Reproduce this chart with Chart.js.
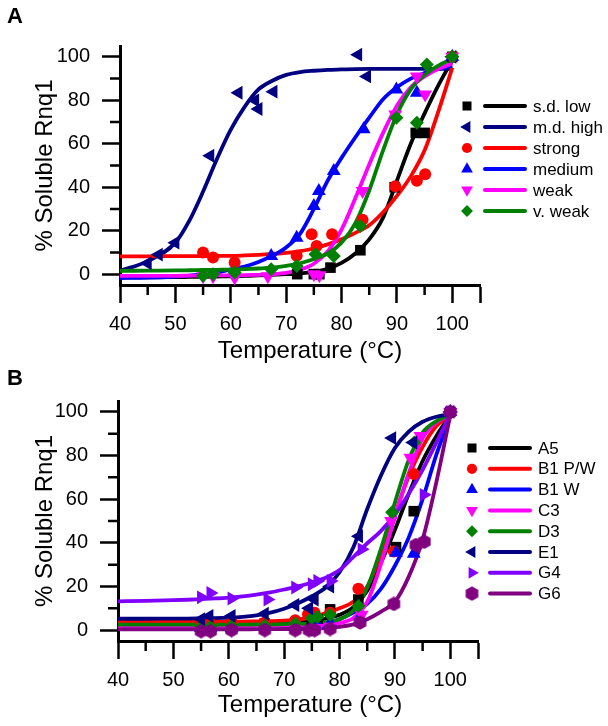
<!DOCTYPE html>
<html>
<head>
<meta charset="utf-8">
<script src="https://cdn.jsdelivr.net/npm/chart.js@4.4.1/dist/chart.umd.min.js"></script>
<style>
  body { margin: 0; background: #ffffff; }
  .panel { position: absolute; left: 0; width: 608px; }
  #panelA { top: 0; height: 366px; }
  #panelB { top: 366px; height: 360px; }
</style>
</head>
<body>
<div class="panel" id="panelA"><canvas id="chartA" width="608" height="366"></canvas></div>
<div class="panel" id="panelB"><canvas id="chartB" width="608" height="360"></canvas></div>
<script>
const fitTemps = [40, 45, 50, 52.5, 55, 57.5, 60, 62.5, 65, 67.5, 70, 72.5, 75, 77.5, 80, 82.5, 85, 87.5, 90, 92.5, 95, 97.5, 100];

// Axis ticks
const xMajorTicks = [40, 50, 60, 70, 80, 90, 100, 105];
const xMinorTicks = [45, 55, 65, 75, 85, 95];
const yMajorTicks = [0, 20, 40, 60, 80, 100];
const yMinorTicks = [10, 30, 50, 70, 90];

// ---- Panel A: measured points [temp, % soluble] ----
const sdLowPts = [[72, 0], [75, 0], [76, 0], [78, 3], [83.4, 11], [89.6, 40], [93.4, 65], [95, 65], [100, 100]];
const mdHighPts = [[45, 5], [47, 9], [50, 14.5], [56.3, 54.5], [61.4, 83.5], [64.4, 80], [65, 76], [67.7, 84], [83, 101], [84.6, 91], [100, 100]];
const strongPts = [[55, 10], [56.8, 7.7], [60.7, 5.4], [71.9, 8.5], [74.6, 18.4], [75.5, 13], [78.3, 18.4], [83.8, 25], [89.7, 40.5], [93.6, 43], [95.1, 46], [100, 100]];
const mediumPts = [[67.3, 8.4], [71.9, 16.8], [75, 31.4], [75.9, 38.3], [78.6, 47.5], [84, 66.7], [89.9, 85], [93.6, 83.5], [100, 100]];
const weakPts = [[55, -1], [56.8, -1], [60.7, -1.5], [66.7, -1], [75, 0], [76, -0.5], [83.8, 38.3], [89.7, 73.5], [93.6, 91], [95.1, 82.7], [100, 100]];
const vWeakPts = [[55, -0.8], [56.8, 0], [60.7, 0.8], [67.3, 2.3], [71.9, 3.8], [75.3, 9.2], [78.6, 8.4], [83.4, 22.2], [89.9, 72], [93.6, 69.7], [95.4, 96.5], [100, 100]];

// ---- Panel A: fitted curves at fitTemps ----
const sdLowFit = [-1.5, -1.5, -1.4, -1.3, -1.2, -1.1, -1, -0.8, -0.6, -0.3, 0, 0.4, 1, 2.5, 5.2, 9.5, 16, 26, 43, 60, 74, 87, 98.5];
const mdHighFit = [1.5, 6, 14.5, 24.5, 38, 53, 66.5, 77, 85, 89, 91.7, 93, 93.6, 94, 94.2, 94.4, 94.5, 94.5, 94.5, 94.5, 94.5, 94.5, 94.5];
const strongFit = [8.2, 8.2, 8.3, 8.3, 8.3, 8.4, 8.4, 8.6, 8.9, 9.3, 9.8, 10.6, 11.8, 13.7, 16, 19, 22.5, 28.5, 36, 45, 57, 75, 95];
const mediumFit = [-1.8, -1.6, -1.1, -0.7, 0, 0.8, 2.2, 3.5, 5.6, 8.5, 12.3, 18.5, 30, 43, 53.5, 63, 72, 80.5, 86, 90, 92.5, 94.5, 96];
const weakFit = [-0.8, -0.8, -0.8, -0.7, -0.7, -0.6, -0.6, -0.5, -0.3, 0, 0.6, 2, 4.8, 10.5, 20.5, 35, 50.5, 65, 77.5, 86, 91, 94.5, 97];
const vWeakFit = [1.5, 1.6, 1.7, 1.8, 1.9, 2, 2.1, 2.3, 2.6, 3, 3.8, 5, 7, 9.5, 14.5, 23.5, 38.5, 57, 73.5, 85, 91.7, 96, 99];

// ---- Panel B: measured points ----
const a5Pts = [[55, 2.5], [56.7, 2.5], [60.5, 2.5], [66.5, 3], [72, 3.5], [75, 4], [76, 5], [78.3, 9.5], [83.4, 14], [90.2, 38], [93.4, 54.5], [100, 100]];
const b1pwPts = [[55, 3], [56.7, 3], [60.5, 3.5], [66.5, 3.5], [72, 4.5], [74.3, 7.3], [75.5, 8], [78.3, 8], [83.4, 19], [89.8, 36], [93.4, 71.5], [100, 100]];
const b1wPts = [[55, 1], [56.7, 1], [60.5, 1], [66.5, 1.5], [72, 1.5], [75, 2], [76, 2.5], [78.3, 3], [83.7, 6], [90.2, 35.5], [93.4, 35], [100, 100]];
const c3Pts = [[55, 0], [56.7, 0], [60.5, 0.5], [66.5, 0.5], [72, 0.5], [75, 0.5], [76, 1], [78.3, 1.5], [84, 7], [89.3, 50], [92.8, 79], [94.6, 89], [100, 100]];
const d3Pts = [[55, 1.5], [56.7, 1.5], [60.5, 2], [66.5, 2], [72, 3], [75, 5.5], [76, 6], [78.3, 7], [83.4, 11], [89.5, 54], [93.5, 86], [100, 100]];
const e1Pts = [[55, 5], [56.5, 6.5], [60.5, 6.5], [66.5, 7.5], [72, 11.5], [74.5, 10], [75.5, 14], [78.3, 20], [83.5, 43], [89.5, 88], [93.3, 86], [100, 100]];
const g4Pts = [[55, 15], [56.7, 17], [60.5, 14.5], [67, 14], [72, 19.5], [75, 21], [76, 22.5], [78.4, 22.5], [84, 37], [95.2, 62], [100, 100]];
const g6Pts = [[55, -0.5], [56.7, -0.5], [60.5, 0], [66.5, 0], [72, 0], [74.5, 0], [75.5, 0], [78.3, 0.5], [83.7, 3.5], [89.8, 12], [93.8, 39], [95.3, 40.5], [100, 100]];

// ---- Panel B: fitted curves at fitTemps ----
const a5Fit = [3.2, 3.2, 3.2, 3.2, 3.2, 3.2, 3.3, 3.3, 3.4, 3.5, 3.6, 3.9, 4.4, 5.3, 7, 10.5, 18, 31, 46, 62.5, 77.5, 89, 98.5];
const b1pwFit = [3.8, 3.8, 3.8, 3.8, 3.8, 3.8, 3.9, 3.9, 4, 4.1, 4.3, 4.8, 5.8, 7.8, 10, 13, 20, 35, 53, 70.5, 84, 93.5, 98.5];
const b1wFit = [2, 2, 2, 2, 2, 2, 2, 2.1, 2.1, 2.2, 2.3, 2.4, 2.6, 3.3, 5, 8, 12, 19, 29.5, 42.5, 60, 80.5, 98];
const c3Fit = [1.2, 1.2, 1.2, 1.2, 1.2, 1.2, 1.2, 1.2, 1.2, 1.3, 1.3, 1.4, 1.5, 2, 3.2, 5.5, 13, 30.5, 52, 72, 88, 95.3, 98.5];
const d3Fit = [2.5, 2.5, 2.5, 2.5, 2.5, 2.5, 2.5, 2.5, 2.6, 2.6, 2.7, 2.8, 3, 3.6, 5, 9, 19.5, 37.5, 58.5, 78, 90.5, 95.8, 98.8];
const e1Fit = [5.2, 5.2, 5.3, 5.3, 5.4, 5.5, 5.7, 6.1, 6.8, 8, 9.8, 12.3, 15.5, 19.5, 26.5, 38, 55.5, 71, 83.5, 91, 95.5, 97.8, 99];
const g4Fit = [13.2, 13.4, 13.7, 13.9, 14.2, 14.5, 14.9, 15.5, 16.3, 17.3, 18.6, 20, 21.8, 24, 27.5, 33.5, 39.8, 45.5, 53, 62.5, 73.5, 86, 99];
const g6Fit = [0.3, 0.3, 0.3, 0.3, 0.3, 0.3, 0.3, 0.3, 0.4, 0.4, 0.5, 0.5, 0.6, 0.9, 1.5, 2.6, 5, 8.5, 13, 24.5, 41.5, 68, 98.5];

const FONT = "Arial, 'Liberation Sans', sans-serif";

document.addEventListener("DOMContentLoaded", () => {
    Chart.defaults.font.family = FONT;
    Chart.defaults.color = "#000";

    // small filled hexagon used as a point style
    function hexagonStyle(color) {
        const c = document.createElement("canvas");
        c.width = 15;
        c.height = 15;
        const g = c.getContext("2d");
        g.fillStyle = color;
        g.beginPath();
        for (let k = 0; k < 6; k++) {
            const a = Math.PI / 3 * k - Math.PI / 2;
            const px = 7.5 + 7.3 * Math.cos(a);
            const py = 7.5 + 7.3 * Math.sin(a);
            if (k === 0) g.moveTo(px, py); else g.lineTo(px, py);
        }
        g.closePath();
        g.fill();
        return c;
    }

    const seriesA = [
        { name: "s.d. low", color: "#000000", style: "rect", rot: 0, r: 7.5, pts: sdLowPts, fit: sdLowFit },
        { name: "m.d. high", color: "#000080", style: "triangle", rot: -90, r: 8, pts: mdHighPts, fit: mdHighFit },
        { name: "strong", color: "#ff0000", style: "circle", rot: 0, r: 6, pts: strongPts, fit: strongFit },
        { name: "medium", color: "#0000ff", style: "triangle", rot: 0, r: 8, pts: mediumPts, fit: mediumFit },
        { name: "weak", color: "#ff00ff", style: "triangle", rot: 180, r: 8, pts: weakPts, fit: weakFit },
        { name: "v. weak", color: "#008000", style: "rectRot", rot: 0, r: 7, pts: vWeakPts, fit: vWeakFit }
    ];

    const seriesB = [
        { name: "A5", color: "#000000", style: "rect", rot: 0, r: 7.5, pts: a5Pts, fit: a5Fit },
        { name: "B1 P/W", color: "#ff0000", style: "circle", rot: 0, r: 6, pts: b1pwPts, fit: b1pwFit },
        { name: "B1 W", color: "#0000ff", style: "triangle", rot: 0, r: 8, pts: b1wPts, fit: b1wFit },
        { name: "C3", color: "#ff00ff", style: "triangle", rot: 180, r: 8, pts: c3Pts, fit: c3Fit },
        { name: "D3", color: "#008000", style: "rectRot", rot: 0, r: 7, pts: d3Pts, fit: d3Fit },
        { name: "E1", color: "#000080", style: "triangle", rot: -90, r: 8, pts: e1Pts, fit: e1Fit },
        { name: "G4", color: "#8000ff", style: "triangle", rot: 90, r: 8, pts: g4Pts, fit: g4Fit },
        { name: "G6", color: "#800080", style: hexagonStyle("#800080"), rot: 0, r: 7, pts: g6Pts, fit: g6Fit }
    ];

    // lines first (later series on top), points above all lines
    function buildDatasets(series) {
        const n = series.length;
        const lines = series.map((s, i) => ({
            label: s.name + " fit",
            data: fitTemps.map((t, k) => ({ x: t, y: s.fit[k] })),
            showLine: true,
            pointRadius: 0,
            borderColor: s.color,
            backgroundColor: s.color,
            borderWidth: 3.8,
            cubicInterpolationMode: "monotone",
            order: 100 + n - i,
            clip: false
        }));
        const points = series.map((s, i) => ({
            label: s.name,
            data: s.pts.map(p => ({ x: p[0], y: p[1] })),
            pointStyle: s.style,
            rotation: s.rot,
            pointRadius: s.r,
            backgroundColor: s.color,
            borderColor: s.color,
            borderWidth: 0,
            order: n - i,
            clip: false
        }));
        return lines.concat(points);
    }

    // minor ticks, panel letter, x title and the side legend
    function decorPlugin(series, g) {
        return {
            id: "panelDecor",
            afterDraw(chart) {
                const ctx = chart.ctx;
                const xs = chart.scales.x;
                const ys = chart.scales.y;
                ctx.save();
                ctx.strokeStyle = "#000";
                ctx.lineWidth = 2.5;
                ctx.beginPath();
                xMinorTicks.forEach(v => {
                    const p = xs.getPixelForValue(v);
                    ctx.moveTo(p, xs.top);
                    ctx.lineTo(p, xs.top + 10);
                });
                yMinorTicks.forEach(v => {
                    const p = ys.getPixelForValue(v);
                    ctx.moveTo(ys.right, p);
                    ctx.lineTo(ys.right - 10, p);
                });
                ctx.stroke();

                ctx.fillStyle = "#000";
                ctx.textBaseline = "middle";
                ctx.font = "bold 22px " + FONT;
                ctx.textAlign = "left";
                ctx.fillText(g.letter, 7, g.letterY);

                ctx.font = "24px " + FONT;
                ctx.textAlign = "center";
                ctx.fillText("Temperature (\u00B0C)", g.titleX, g.titleY);

                // legend: marker, short line, label
                series.forEach((s, i) => {
                    const y = g.legY + i * g.legDy;
                    ctx.fillStyle = s.color;
                    ctx.strokeStyle = s.color;
                    Chart.helpers.drawPoint(ctx, { pointStyle: s.style, rotation: s.rot, radius: s.r * 0.85, borderWidth: 0 }, g.legMarkX, y);
                    ctx.lineWidth = 4;
                    ctx.lineCap = "round";
                    ctx.beginPath();
                    ctx.moveTo(g.legLine1, y);
                    ctx.lineTo(g.legLine2, y);
                    ctx.stroke();
                    ctx.fillStyle = "#000";
                    ctx.font = "17px " + FONT;
                    ctx.textAlign = "left";
                    ctx.fillText(s.name, g.legTextX, y + 1);
                });
                ctx.restore();
            }
        };
    }

    function makePanel(canvasId, series, g) {
        new Chart(document.getElementById(canvasId), {
            type: "scatter",
            data: { datasets: buildDatasets(series) },
            options: {
                responsive: false,
                animation: false,
                events: [],
                layout: { padding: { left: 0, top: g.top, right: g.right, bottom: 0 } },
                plugins: { legend: { display: false }, tooltip: { enabled: false } },
                scales: {
                    x: {
                        type: "linear",
                        min: 40,
                        max: 105,
                        afterBuildTicks: s => { s.ticks = xMajorTicks.map(v => ({ value: v })); },
                        afterFit: s => { s.height = g.xHeight; },
                        ticks: {
                            font: { size: 20 },
                            color: "#000",
                            padding: 9,
                            maxRotation: 0,
                            autoSkip: false,
                            callback: v => (v <= 100 ? v : "")
                        },
                        grid: { drawOnChartArea: false, tickLength: 18, tickWidth: 2.5, tickColor: "#000" },
                        border: { color: "#000", width: 3 }
                    },
                    y: {
                        type: "linear",
                        min: -5,
                        max: 105,
                        afterBuildTicks: s => { s.ticks = yMajorTicks.map(v => ({ value: v })); },
                        afterFit: s => { s.width = g.yWidth; },
                        ticks: { font: { size: 20 }, color: "#000", padding: 12, autoSkip: false },
                        grid: { drawOnChartArea: false, tickLength: 18, tickWidth: 2.5, tickColor: "#000" },
                        border: { color: "#000", width: 3 },
                        title: {
                            display: true,
                            text: "% Soluble Rnq1",
                            color: "#000",
                            font: { size: 24 },
                            padding: { top: 31, bottom: 0 }
                        }
                    }
                }
            },
            plugins: [decorPlugin(series, g)]
        });
    }

    makePanel("chartA", seriesA, {
        top: 46, right: 128, xHeight: 81, yWidth: 120,
        letter: "A", letterY: 17, titleX: 310, titleY: 351,
        legY: 106, legDy: 21, legMarkX: 467, legLine1: 485, legLine2: 525, legTextX: 533
    });

    makePanel("chartB", seriesB, {
        top: 35, right: 130, xHeight: 85, yWidth: 118,
        letter: "B", letterY: 13, titleX: 310, titleY: 339,
        legY: 82, legDy: 20.8, legMarkX: 472, legLine1: 490, legLine2: 530, legTextX: 538
    });
});
</script>
</body>
</html>
